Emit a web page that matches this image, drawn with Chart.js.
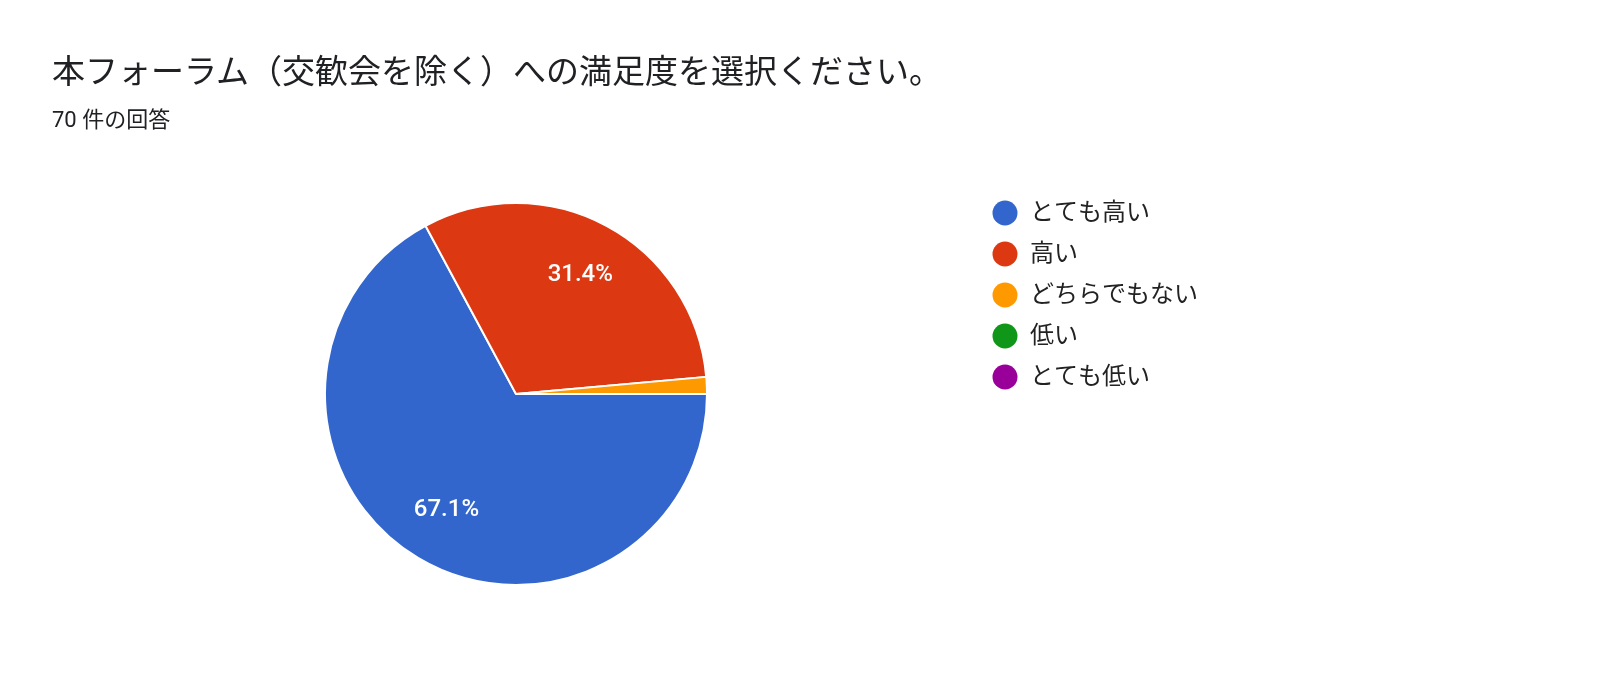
<!DOCTYPE html>
<html>
<head>
<meta charset="utf-8">
<script src="https://cdn.jsdelivr.net/npm/chart.js@4"></script>
<style>
  body { margin: 0; background: #fff; font-family: Roboto, "Noto Sans CJK JP", sans-serif; }
  #wrap { position: relative; width: 1600px; height: 673px; }
  #title { position: absolute; left: 52px; top: 50px; font-size: 33px; line-height: 44px; color: #202124; }
  #sub { position: absolute; left: 52px; top: 106px; font-size: 22px; line-height: 28px; color: #202124; }
  canvas { position: absolute; left: 0; top: 0; }
</style>
</head>
<body>
<div id="wrap">
  <canvas id="pie" width="1600" height="673"></canvas>
  <div id="title">本フォーラム（交歓会を除く）への満足度を選択ください。</div>
  <div id="sub">70 件の回答</div>
</div>
<script>
const labels = ['とても高い', '高い', 'どちらでもない', '低い', 'とても低い'];
const counts = [47, 22, 1, 0, 0];
const colors = ['#3366cc', '#dc3912', '#ff9900', '#109618', '#990099'];

const total = counts.reduce((a, b) => a + b, 0);

// percent labels inside big slices + legend on the right
const extras = {
  id: 'extras',
  afterDraw(chart) {
    const ctx = chart.ctx;
    const meta = chart.getDatasetMeta(0);
    ctx.save();
    ctx.font = '500 24px Roboto, "Noto Sans CJK JP", sans-serif';
    ctx.fillStyle = '#fff';
    ctx.textAlign = 'center';
    ctx.textBaseline = 'middle';
    meta.data.forEach((arc, i) => {
      const pct = counts[i] / total * 100;
      if (pct < 5) return;
      const mid = (arc.startAngle + arc.endAngle) / 2;
      const r = arc.outerRadius * 0.71;
      ctx.fillText(pct.toFixed(1) + '%', arc.x + Math.cos(mid) * r, arc.y + Math.sin(mid) * r);
    });
    ctx.textAlign = 'left';
    ctx.font = '24px Roboto, "Noto Sans CJK JP", sans-serif';
    labels.forEach((lab, i) => {
      const y = 213 + i * 41;
      ctx.beginPath();
      ctx.arc(1005, y, 12.5, 0, Math.PI * 2);
      ctx.fillStyle = colors[i];
      ctx.fill();
      ctx.fillStyle = '#222';
      ctx.fillText(lab, 1030, y + 1);
    });
    ctx.restore();
  }
};

new Chart(document.getElementById('pie'), {
  type: 'pie',
  data: {
    labels: labels,
    datasets: [{
      data: counts,
      backgroundColor: colors,
      borderColor: '#fff',
      borderWidth: 2
    }]
  },
  options: {
    responsive: false,
    animation: false,
    rotation: 90,
    layout: { padding: { left: 324, right: 892, top: 202, bottom: 87 } },
    plugins: { legend: { display: false }, tooltip: { enabled: false } }
  },
  plugins: [extras]
});
</script>
</body>
</html>
